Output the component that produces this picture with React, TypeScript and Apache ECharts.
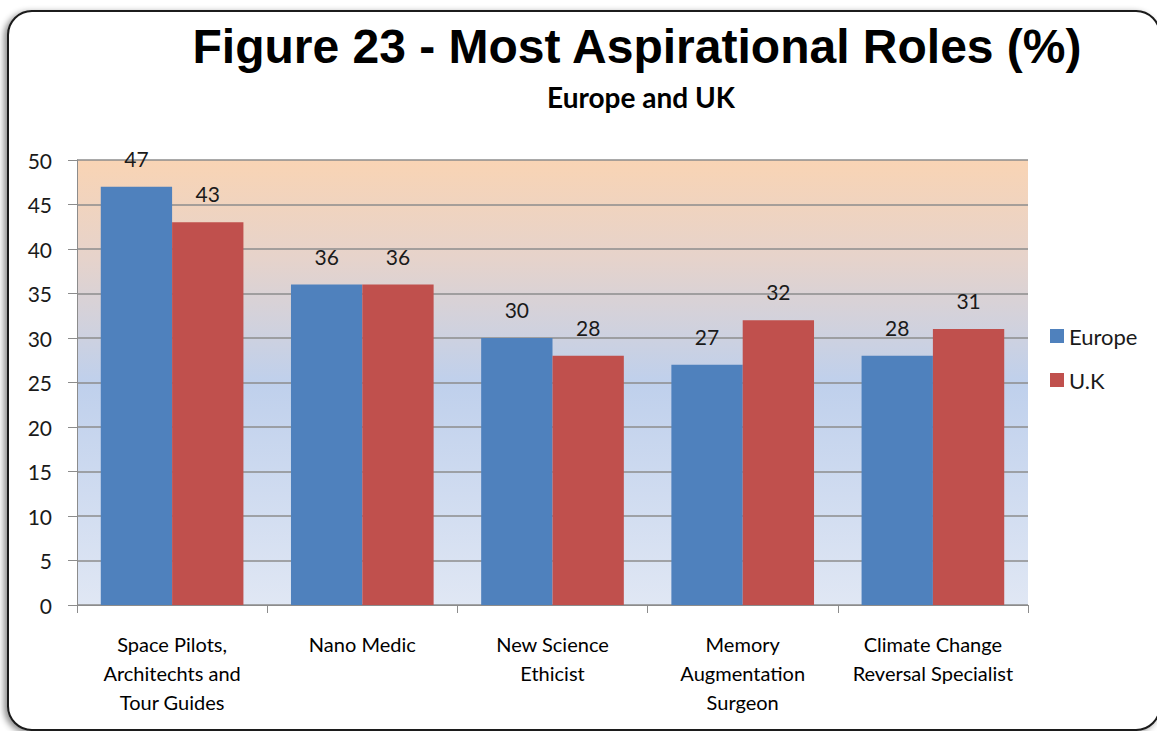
import React, { useEffect, useRef } from "react";
import * as echarts from "echarts";

const categories = [
  "Space Pilots,\nArchitechts and\nTour Guides",
  "Nano Medic",
  "New Science\nEthicist",
  "Memory\nAugmentation\nSurgeon",
  "Climate Change\nReversal Specialist",
];
const europe = [47, 36, 30, 27, 28];
const uk = [43, 36, 28, 32, 31];
const seriesNames = ["Europe", "U.K"];
const titleText = "Figure 23 - Most Aspirational Roles (%)";
const subtitleText = "Europe and UK";

const FONT = "Lato, 'Open Sans', sans-serif";

export default function App() {
  const ref = useRef<HTMLDivElement>(null);
  useEffect(() => {
    if (!ref.current) return;
    const chart = echarts.init(ref.current, null, { renderer: "svg" });
    const labelStyle = {
      show: true,
      position: "top",
      distance: 18,
      color: "#1a1a1a",
      fontFamily: FONT,
      fontSize: 21,
    };
    const frame = {
      type: "rect",
      shape: { x: 8, y: 11, width: 1152, height: 719, r: 24 },
      style: {
        fill: "#ffffff",
        stroke: "#1a1a1a",
        lineWidth: 2,
        shadowBlur: 6,
        shadowOffsetX: -3,
        shadowOffsetY: 2,
        shadowColor: "rgba(0,0,0,0.45)",
      },
      z: -10,
      silent: true,
    };
    chart.setOption({
      animation: false,
      backgroundColor: "#ffffff",
      graphic: [frame],
      title: [
        {
          text: titleText,
          left: 632,
          textAlign: "center",
          top: 17,
          textStyle: {
            fontFamily: "Arial, 'Liberation Sans', sans-serif",
            fontWeight: "bold",
            fontSize: 48,
            color: "#000",
          },
        },
        {
          text: subtitleText,
          left: 636,
          textAlign: "center",
          top: 78,
          textStyle: {
            fontFamily: FONT,
            fontWeight: "bold",
            fontSize: 28,
            color: "#000",
          },
        },
      ],
      legend: {
        orient: "vertical",
        left: 1045,
        top: 320,
        itemWidth: 14,
        itemHeight: 14,
        itemGap: 22,
        icon: "rect",
        data: seriesNames,
        textStyle: { fontFamily: FONT, fontSize: 22, color: "#1a1a1a" },
      },
      grid: { left: 77, right: 129, top: 160, bottom: 126, containLabel: false },
      xAxis: {
        type: "category",
        data: categories,
        axisLine: { lineStyle: { color: "#8c8c8c", width: 1 } },
        axisTick: { show: true, length: 8, lineStyle: { color: "#8c8c8c" } },
        axisLabel: {
          fontFamily: FONT,
          fontSize: 20,
          color: "#000",
          lineHeight: 29,
          margin: 24,
          interval: 0,
        },
      },
      yAxis: {
        type: "value",
        min: 0,
        max: 50,
        interval: 5,
        axisLine: { show: true, lineStyle: { color: "#8c8c8c" } },
        axisTick: { show: true, length: 9, lineStyle: { color: "#8c8c8c" } },
        axisLabel: { fontFamily: FONT, fontSize: 21, color: "#1a1a1a", margin: 25 },
        splitLine: { show: true, lineStyle: { color: "#8c8c8c", width: 1.5 } },
      },
      series: [
        {
          name: seriesNames[0],
          type: "bar",
          data: europe,
          barGap: "0%",
          barCategoryGap: "25%",
          itemStyle: { color: "#4F81BD" },
          label: labelStyle,
        },
        {
          name: seriesNames[1],
          type: "bar",
          data: uk,
          barGap: "0%",
          barCategoryGap: "25%",
          itemStyle: { color: "#C0504D" },
          label: labelStyle,
        },
      ],
    });
    const grid = (chart as any).getModel().getComponent("grid").coordinateSystem.getRect();
    chart.setOption({
      graphic: [
        frame,
        {
          type: "rect",
          shape: { x: grid.x, y: grid.y, width: grid.width, height: grid.height },
          style: {
            fill: new echarts.graphic.LinearGradient(0, 0, 0, 1, [
              { offset: 0, color: "#F9D4B4" },
              { offset: 0.22, color: "#E6D3CB" },
              { offset: 0.5, color: "#BFD0EC" },
              { offset: 1, color: "#E0E7F4" },
            ]),
          },
          z: -5,
          silent: true,
        },
      ],
    });
    return () => chart.dispose();
  }, []);
  return (
    <div
      ref={ref}
      style={{ position: "fixed", left: 0, top: 0, width: 1157, height: 731 }}
    />
  );
}
